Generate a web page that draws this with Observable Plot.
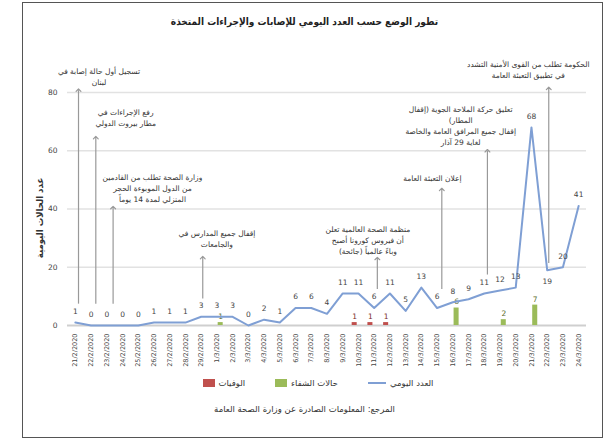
<!DOCTYPE html>
<html>
<head>
<meta charset="utf-8">
<script src="https://cdn.jsdelivr.net/npm/d3@7"></script>
<script src="https://cdn.jsdelivr.net/npm/@observablehq/plot@0.6"></script>
<style>
  body { margin: 0; background: #fff; font-family: "DejaVu Sans", sans-serif; }
  #frame { position: absolute; left: 22px; top: 2px; width: 579px; height: 434px; border: 1.5px solid #555; }
  #title { position: absolute; left: 0; top: 16px; width: 609px; text-align: center; font-weight: bold; font-size: 10px; color: #222; direction: rtl; font-family: "DejaVu Sans Condensed", "DejaVu Sans", sans-serif; }
  #chart { position: absolute; left: 0; top: 40px; }
  #ytitle { position: absolute; left: -5px; top: 212px; width: 90px; text-align: center; font-size: 9.5px; font-weight: bold; color: #333; transform: rotate(-90deg); transform-origin: 45px 6px; direction: rtl; font-family: "DejaVu Sans Condensed", "DejaVu Sans", sans-serif; }
  #legend { position: absolute; left: 0; top: 378px; width: 636px; display: flex; justify-content: center; gap: 30px; direction: rtl; font-size: 8.5px; color: #333; }
  #legend span.item { display: inline-flex; align-items: center; gap: 4px; }
  #legend .sw { display: inline-block; width: 12px; height: 8px; }
  #legend .ln { display: inline-block; width: 18px; height: 2px; }
  #caption { position: absolute; left: 0; top: 404px; width: 609px; text-align: center; font-size: 8.5px; color: #333; direction: rtl; }
</style>
</head>
<body>
<div id="frame"></div>
<div id="title"></div>
<div id="ytitle"></div>
<div id="chart"></div>
<div id="legend"></div>
<div id="caption"></div>
<script>
// ---- data ----
const titleText = "تطور الوضع حسب العدد اليومي للإصابات والإجراءات المتخذة";
const yTitle = "عدد الحالات اليومية";
const captionText = "المرجع: المعلومات الصادرة عن وزارة الصحة العامة";
const seriesNames = ["العدد اليومي", "حالات الشفاء", "الوفيات"];
const seriesColors = ["#7f9fd4", "#9bbb59", "#c0504d"];

const dates = ["21/2/2020","22/2/2020","23/2/2020","24/2/2020","25/2/2020","26/2/2020","27/2/2020","28/2/2020","29/2/2020",
  "1/3/2020","2/3/2020","3/3/2020","4/3/2020","5/3/2020","6/3/2020","7/3/2020","8/3/2020","9/3/2020","10/3/2020",
  "11/3/2020","12/3/2020","13/3/2020","14/3/2020","15/3/2020","16/3/2020","17/3/2020","18/3/2020","19/3/2020",
  "20/3/2020","21/3/2020","22/3/2020","23/3/2020","24/3/2020"];
const daily =      [1,0,0,0,0,1,1,1,3,3,3,0,2,1,6,6,4,11,11,6,11,5,13,6,8,9,11,12,13,68,19,20,41];
const deaths =     [0,0,0,0,0,0,0,0,0,0,0,0,0,0,0,0,0,0,1,1,1,0,0,0,0,0,0,0,0,0,0,0,0];
const recoveries = [0,0,0,0,0,0,0,0,0,1,0,0,0,0,0,0,0,0,0,0,0,0,0,0,6,0,0,2,0,7,0,0,0];
const labelBelow = [30]; // day index whose value label sits under the line
const yTicks = [0, 20, 40, 60, 80];

// annotations: leader position (day index), text anchor (day index), text bottom / leader top / leader bottom (case units)
const annotations = [
  {at: 0.2, tx: 1.5,  ty: 82.5, top: 80.8, bottom: 7.5,  text: "تسجيل أول حالة إصابة في\nلبنان"},
  {at: 1.3, tx: 3.2,  ty: 68.5, top: 64.5, bottom: 7.5,  text: "رفع الإجراءات في\nمطار بيروت الدولي"},
  {at: 2.4, tx: 4.9,  ty: 42.5, top: 40.5, bottom: 7.5,  text: "وزارة الصحة تطلب من القادمين\nمن الدول الموبوءة الحجر\nالمنزلي لمدة 14 يوماً"},
  {at: 8.1, tx: 9.0,  ty: 27.0, top: 23.3, bottom: 9.3,  text: "إقفال جميع المدارس في\nوالجامعات"},
  {at: 19.2, tx: 18.6, ty: 24.5, top: 23.0, bottom: 12.5, text: "منظمة الصحة العالمية تعلن\nأن فيروس كورونا أصبح\nوباءً عالمياً (جائحة)"},
  {at: 23.3, tx: 22.7, ty: 49.5, top: 46.7, bottom: 12.5, text: "إعلان التعبئة العامة"},
  {at: 26.2, tx: 24.5, ty: 62.0, top: 60.0, bottom: 17.5, text: "تعليق حركة الملاحة الجوية (إقفال\nالمطار)\nإقفال جميع المرافق العامة والخاصة\nلغاية 29 آذار"},
  {at: 30.1, tx: 28.8, ty: 85.0, top: 81.4, bottom: 21.5, text: "الحكومة تطلب من القوى الأمنية التشدد\nفي تطبيق التعبئة العامة"}
];

// ---- build ----
const rows = daily.map((v, i) => ({i, v}));
const rowsAbove = rows.filter(d => !labelBelow.includes(d.i));
const rowsBelow = rows.filter(d => labelBelow.includes(d.i));
const deathRows = deaths.map((v, i) => ({i, v})).filter(d => d.v > 0);
const recRows = recoveries.map((v, i) => ({i, v})).filter(d => d.v > 0);

document.getElementById("title").textContent = titleText;
document.getElementById("ytitle").textContent = yTitle;
document.getElementById("caption").textContent = captionText;

const legend = document.getElementById("legend");
legend.innerHTML =
  `<span class="item"><span>${seriesNames[0]}</span><span class="ln" style="background:${seriesColors[0]}"></span></span>` +
  `<span class="item"><span>${seriesNames[1]}</span><span class="sw" style="background:${seriesColors[1]}"></span></span>` +
  `<span class="item"><span>${seriesNames[2]}</span><span class="sw" style="background:${seriesColors[2]}"></span></span>`;

const chart = Plot.plot({
  width: 609,
  height: 335,
  marginTop: 52,
  marginBottom: 50,
  marginLeft: 67,
  marginRight: 23,
  style: {fontFamily: "'DejaVu Sans', sans-serif", fontSize: "7.5px", color: "#444", background: "transparent"},
  x: {type: "linear", domain: [-0.5, 32.5], ticks: d3.range(dates.length), tickFormat: i => dates[i],
      tickRotate: -90, tickSize: 0, tickPadding: 8, label: null},
  y: {domain: [0, 80], ticks: yTicks, tickSize: 0, tickPadding: 10, label: null, tickFormat: d => d},
  marks: [
    Plot.ruleY(yTicks.filter(t => t > 0), {stroke: "#e2e2e2", strokeWidth: 1.5}),
    Plot.ruleY([0], {stroke: "#cfcfcf", strokeWidth: 2}),
    Plot.rectY(deathRows, {x1: d => d.i - 0.4, x2: d => d.i - 0.08, y: "v", fill: seriesColors[2]}),
    Plot.rectY(recRows, {x1: d => d.i + 0.08, x2: d => d.i + 0.4, y: "v", fill: seriesColors[1]}),
    Plot.text(deathRows, {x: d => d.i - 0.24, y: "v", text: "v", dy: -6, fontSize: 7.5, fill: "#7a2a28"}),
    Plot.text(recRows, {x: d => d.i + 0.24, y: "v", text: "v", dy: -6, fontSize: 7.5, fill: "#5a6b2a"}),
    Plot.link(annotations, {x1: "at", x2: "at", y1: "bottom", y2: "top", stroke: "#999", strokeWidth: 1.2, markerEnd: "arrow"}),
    Plot.text(annotations, {x: "tx", y: "ty", text: "text", lineAnchor: "bottom", lineHeight: 1.45, fontSize: 7.5, fill: "#333", textAnchor: "middle"}),
    Plot.line(rows, {x: "i", y: "v", stroke: seriesColors[0], strokeWidth: 2}),
    Plot.text(rowsAbove, {x: "i", y: "v", text: "v", dy: -11, fontSize: 7.5, fill: "#444"}),
    Plot.text(rowsBelow, {x: "i", y: "v", text: "v", dy: 11, fontSize: 7.5, fill: "#444"})
  ]
});
chart.querySelectorAll("g[aria-label='x-axis tick label']").forEach(el => el.setAttribute("font-size", "6.5"));
document.getElementById("chart").appendChild(chart);
// Arabic runs read right to left
d3.select(chart).selectAll("text").each(function() {
  if (/[\u0600-\u06FF]/.test(this.textContent)) this.setAttribute("direction", "rtl");
});
</script>
</body>
</html>
